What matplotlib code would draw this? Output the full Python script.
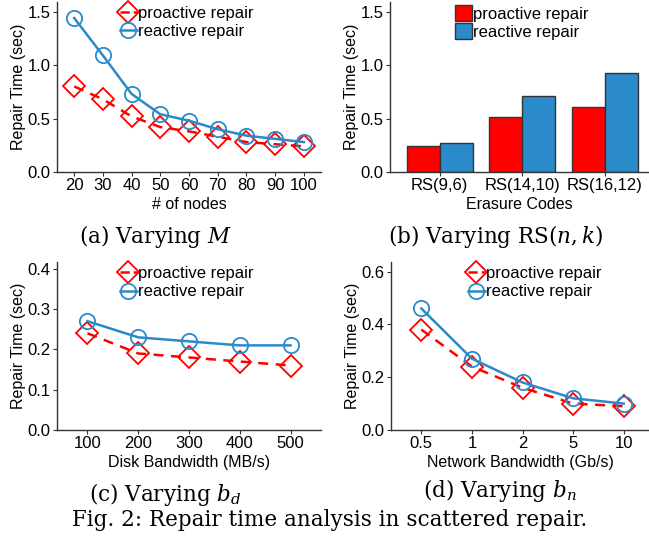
import numpy as np
import matplotlib.pyplot as plt
from matplotlib.lines import Line2D

plt.rcParams['font.family'] = ['Liberation Sans', 'DejaVu Sans']
plt.rcParams['mathtext.fontset'] = 'dejavuserif'

RED = '#FF0000'
BLUE = '#2B8AC9'

# (a) varying number of nodes
nodes = ['20', '30', '40', '50', '60', '70', '80', '90', '100']
a_proactive = [0.80, 0.68, 0.52, 0.42, 0.38, 0.33, 0.28, 0.26, 0.24]
a_reactive = [1.44, 1.09, 0.73, 0.54, 0.48, 0.40, 0.34, 0.31, 0.28]

# (b) varying erasure codes
codes = ['RS(9,6)', 'RS(14,10)', 'RS(16,12)']
b_proactive = [0.24, 0.51, 0.61]
b_reactive = [0.27, 0.71, 0.93]

# (c) varying disk bandwidth
disk_bw = ['100', '200', '300', '400', '500']
c_proactive = [0.24, 0.19, 0.18, 0.17, 0.16]
c_reactive = [0.27, 0.23, 0.22, 0.21, 0.21]

# (d) varying network bandwidth
net_bw = ['0.5', '1', '2', '5', '10']
d_proactive = [0.38, 0.24, 0.16, 0.10, 0.09]
d_reactive = [0.46, 0.27, 0.18, 0.12, 0.10]

W, H = 649, 546
fig = plt.figure(figsize=(W / 100, H / 100), dpi=100)
FS_TICK = 12
FS_LAB = 11.5
FS_LEG = 12


def make_ax(x0, x1, ytop, ybot):
    return fig.add_axes([x0 / W, 1 - ybot / H, (x1 - x0) / W, (ybot - ytop) / H])


def style(ax, ylim, yticks, xlabel):
    for s in ['top', 'right']:
        ax.spines[s].set_visible(False)
    for s in ['left', 'bottom']:
        ax.spines[s].set_color('#333333')
        ax.spines[s].set_linewidth(1.0)
    ax.set_ylim(*ylim)
    ax.set_yticks(yticks)
    ax.set_yticklabels(['%.1f' % v for v in yticks])
    ax.tick_params(colors='#333333', labelcolor='black', labelsize=FS_TICK,
                   length=3, width=0.8, pad=1.5)
    ax.set_ylabel('Repair Time (sec)', fontsize=FS_LAB, labelpad=1)
    ax.set_xlabel(xlabel, fontsize=FS_LAB, labelpad=2.5)


def line_legend(ax, left_px, top_px):
    handles = [Line2D([], [], color=RED, ls='--', lw=1.8, marker='D', ms=11,
                      mfc='none', mec=RED, mew=1.3),
               Line2D([], [], color=BLUE, ls='-', lw=1.8, marker='o', ms=11,
                      mfc='none', mec=BLUE, mew=1.3)]
    ax.legend(handles, ['proactive repair', 'reactive repair'], loc='upper left',
              bbox_to_anchor=(left_px / W, 1 - top_px / H),
              bbox_transform=fig.transFigure, frameon=False, fontsize=FS_LEG,
              handlelength=1.0, handletextpad=0.05, labelspacing=0.2,
              borderpad=0, borderaxespad=0)


def line_panel(ax, labels, pro, rea):
    x = np.arange(len(labels))
    ax.plot(x, rea, color=BLUE, lw=1.8, marker='o', ms=11, mfc='none',
            mec=BLUE, mew=1.3, zorder=3)
    ax.plot(x, pro, color=RED, lw=1.8, ls=(0, (4, 3)), marker='D', ms=11.5,
            mfc='none', mec=RED, mew=1.3, zorder=2)
    ax.set_xticks(x)
    ax.set_xticklabels(labels)
    ax.set_xlim(-0.6, len(labels) - 0.4)


# (a)
ax = make_ax(57, 321, 2, 172)
line_panel(ax, nodes, a_proactive, a_reactive)
style(ax, (0, 1.59), [0.0, 0.5, 1.0, 1.5], '# of nodes')
line_legend(ax, 120, 6)

# (b)
ax = make_ax(390, 649, 2, 172)
x = np.arange(len(codes))
bw = 0.4
ax.bar(x - bw / 2, b_proactive, bw, color=RED, edgecolor='#333333', lw=1.0,
       label='proactive repair')
ax.bar(x + bw / 2, b_reactive, bw, color=BLUE, edgecolor='#333333', lw=1.0,
       label='reactive repair')
ax.set_xticks(x)
ax.set_xticklabels(codes)
ax.set_xlim(-0.6, 2.535)
style(ax, (0, 1.59), [0.0, 0.5, 1.0, 1.5], 'Erasure Codes')
ax.legend(loc='upper left', bbox_to_anchor=(455 / W, 1 - 5 / H),
          bbox_transform=fig.transFigure, frameon=False, fontsize=FS_LEG,
          handlelength=1.0, handleheight=1.1, handletextpad=0.1,
          labelspacing=0.1, borderpad=0, borderaxespad=0)

# (c)
ax = make_ax(57, 321, 262, 430)
line_panel(ax, disk_bw, c_proactive, c_reactive)
style(ax, (0, 0.417), [0.0, 0.1, 0.2, 0.3, 0.4], 'Disk Bandwidth (MB/s)')
line_legend(ax, 120, 266)

# (d)
ax = make_ax(391, 649, 262, 430)
line_panel(ax, net_bw, d_proactive, d_reactive)
ax.set_xlim(-0.6, 4.5)
style(ax, (0, 0.636), [0.0, 0.2, 0.4, 0.6], 'Network Bandwidth (Gb/s)')
line_legend(ax, 468, 266)

# captions
cap = dict(ha='center', va='center', fontsize=15.5, family='DejaVu Serif')
fig.text(155 / W, 1 - 237 / H, '(a) Varying $M$', **cap)
fig.text(496 / W, 1 - 237 / H, '(b) Varying RS$(n,k)$', **cap)
fig.text(165 / W, 1 - 495 / H, '(c) Varying $b_d$', **cap)
fig.text(500 / W, 1 - 490 / H, '(d) Varying $b_n$', **cap)
fig.text(330 / W, 1 - 520 / H, 'Fig. 2: Repair time analysis in scattered repair.',
         **cap)

fig.savefig('out.png', dpi=100)
